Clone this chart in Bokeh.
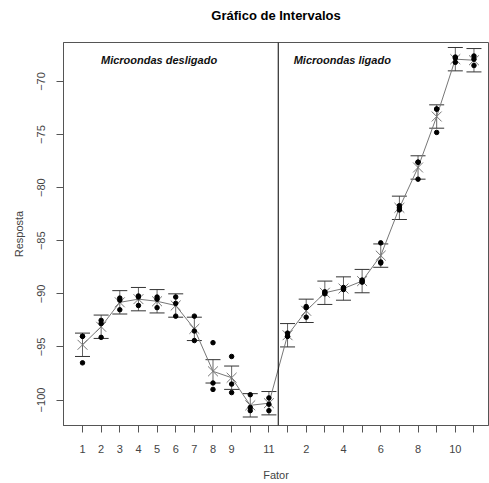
from bokeh.plotting import figure
from bokeh.models import ColumnDataSource, Whisker, TeeHead, Span, FixedTicker, Range1d, Title
from bokeh.core.properties import value
from bokeh.embed import file_html
from bokeh.resources import INLINE

# ---- data ----
positions = list(range(1, 23))
tick_labels = ["1", "2", "3", "4", "5", "6", "7", "8", "9", "", "11",
               "", "2", "", "4", "", "6", "", "8", "", "10", ""]
means = [-94.8, -93.1, -90.8, -90.5, -90.7, -91.1, -93.3, -97.3, -97.9, -100.5, -100.3,
         -93.9, -91.6, -89.9, -89.5, -88.8, -86.4, -81.9, -78.1, -73.3, -67.9, -68.0]
upper = [-93.7, -92.0, -89.7, -89.4, -89.6, -90.0, -92.2, -96.2, -96.8, -99.4, -99.2,
         -92.8, -90.5, -88.8, -88.4, -87.7, -85.3, -80.8, -77.0, -72.2, -66.8, -66.9]
lower = [-95.9, -94.2, -91.9, -91.6, -91.8, -92.2, -94.4, -98.4, -99.0, -101.6, -101.4,
         -95.0, -92.7, -91.0, -90.6, -89.9, -87.5, -83.0, -79.2, -74.4, -69.0, -69.1]
rep1 = [-94.0, -92.5, -90.4, -90.2, -90.3, -90.3, -92.1, -94.6, -95.9, -99.5, -99.8,
        -93.7, -91.2, -89.8, -89.4, -88.7, -85.2, -81.7, -77.6, -72.6, -67.7, -67.6]
rep2 = [-94.0, -92.8, -90.6, -90.3, -90.5, -90.9, -93.5, -98.4, -98.5, -100.7, -100.4,
        -94.0, -91.3, -89.9, -89.5, -88.8, -87.0, -81.9, -77.6, -72.6, -67.8, -67.9]
rep3 = [-96.5, -94.1, -91.5, -91.1, -91.3, -92.1, -94.4, -99.0, -99.3, -101.0, -101.0,
        -94.0, -92.2, -90.0, -89.6, -88.9, -87.1, -82.1, -79.2, -74.8, -68.2, -68.5]
group_labels = ["Microondas desligado", "Microondas ligado"]
y_ticks = [-100, -95, -90, -85, -80, -75, -70]
title_text = "Gráfico de Intervalos"

FONT = "Liberation Sans"

src = ColumnDataSource(dict(x=positions, mean=means, upper=upper, lower=lower,
                            r1=rep1, r2=rep2, r3=rep3))

p = figure(width=489, height=483, output_backend="svg", toolbar_location=None,
           x_range=Range1d(-0.02, 22.78), y_range=Range1d(-102.4, -66.33),
           min_border_left=63, min_border_right=1, min_border_top=42, min_border_bottom=55,
           title=title_text)

p.title.align = "center"
p.title.vertical_align = "top"
p.title.text_font = FONT
p.title.text_font_size = "13px"
p.title.text_font_style = "bold"
p.title.text_color = "black"
p.title.standoff = 14

# small invisible spacer between title and frame
p.add_layout(Title(text=" ", text_font_size="1px", standoff=8), "above")

p.grid.visible = False
p.background_fill_color = "white"
p.outline_line_color = "#555555"
p.outline_line_width = 1

# x axis
p.xaxis.ticker = FixedTicker(ticks=positions)
p.xaxis.major_label_overrides = {pos: lab for pos, lab in zip(positions, tick_labels)}
p.xaxis.axis_label = "Fator"
p.xaxis.minor_tick_line_color = None
p.xaxis.major_tick_out = 7
p.xaxis.major_tick_in = 0
p.xaxis.major_label_standoff = 12
p.xaxis.axis_label_standoff = 13

# y axis
p.yaxis.ticker = FixedTicker(ticks=y_ticks)
p.yaxis.axis_label = "Resposta"
p.yaxis.minor_tick_line_color = None
p.yaxis.major_tick_out = 7
p.yaxis.major_tick_in = 0
p.yaxis.major_label_orientation = "vertical"
p.yaxis.major_label_standoff = 11
p.yaxis.axis_label_standoff = 10

for ax in (p.xaxis, p.yaxis):
    ax.axis_line_color = "#555555"
    ax.major_tick_line_color = "#555555"
    ax.major_label_text_font = FONT
    ax.major_label_text_font_size = "11px"
    ax.major_label_text_color = "#444444"
    ax.axis_label_text_font = FONT
    ax.axis_label_text_font_size = "11px"
    ax.axis_label_text_font_style = "normal"
    ax.axis_label_text_color = "#444444"

# divider between the two groups
p.add_layout(Span(location=11.5, dimension="height", line_color="black", line_width=1))

# line through means
p.line("x", "mean", source=src, line_color="#777777", line_width=1)

# error bars
wh = Whisker(base="x", upper="upper", lower="lower", source=src,
             line_color="#666666", line_width=1,
             upper_head=TeeHead(size=15, line_color="#333333", line_width=1),
             lower_head=TeeHead(size=15, line_color="#333333", line_width=1))
p.add_layout(wh)

# mean markers
p.scatter("x", "mean", source=src, marker="x", size=14, line_color="#777777", line_width=1)

# replicate observations
for col in ("r1", "r2", "r3"):
    p.scatter("x", col, source=src, marker="circle", size=4.5,
              fill_color="black", line_color="black")

# group labels
p.text(x=[1.99, 12.33], y=[-68.0, -68.0], text=group_labels,
       text_font=value(FONT), text_font_style="bold italic", text_font_size="11px",
       text_color="#111111", text_align="left", text_baseline="middle")

open("out.html", "w").write(file_html(p, INLINE))
